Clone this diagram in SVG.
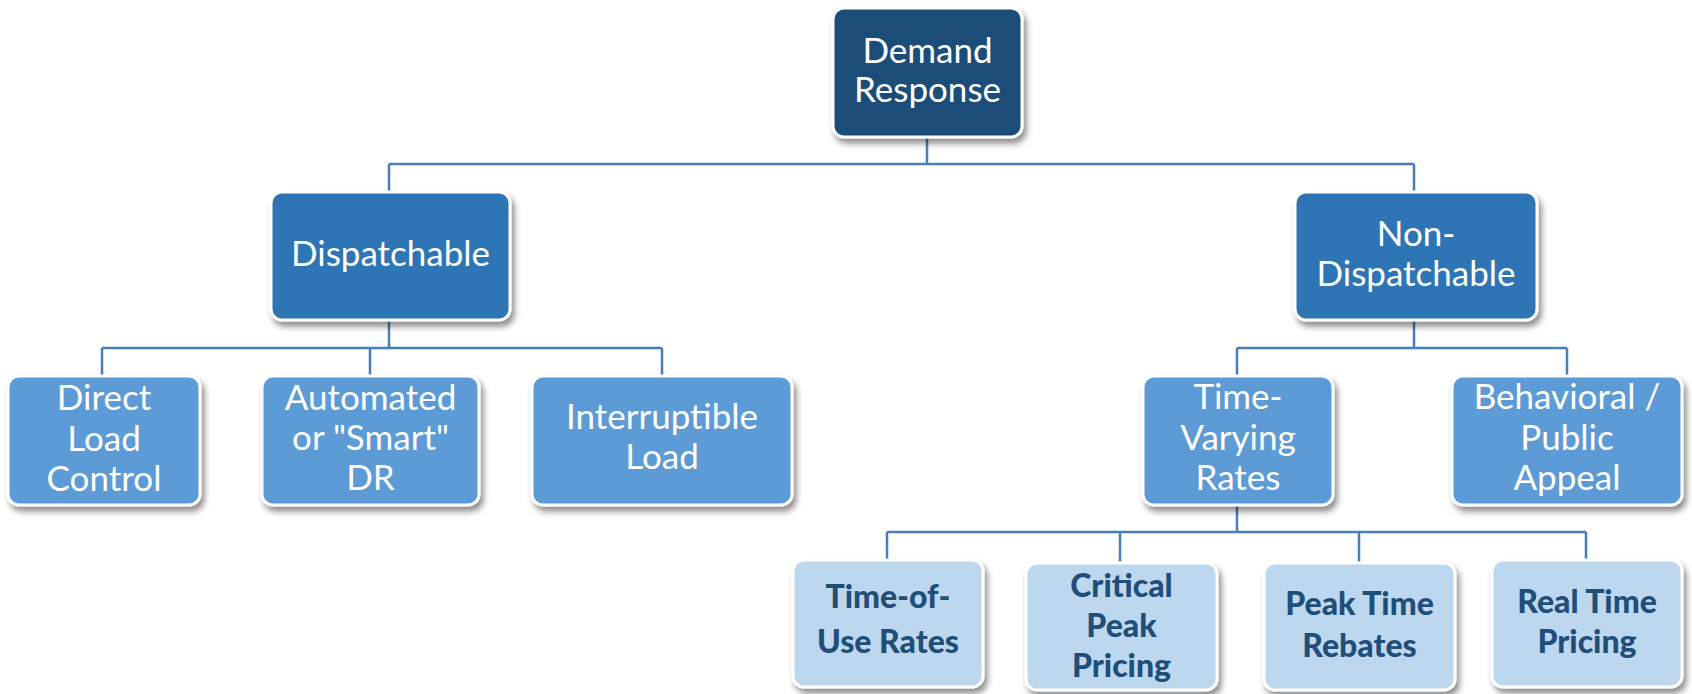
<svg xmlns="http://www.w3.org/2000/svg" width="1692" height="694" viewBox="0 0 1692 694">
<defs>
<filter id="sh" x="-10%" y="-10%" width="125%" height="130%">
<feDropShadow dx="3" dy="5" stdDeviation="3" flood-color="#000" flood-opacity="0.45"/>
</filter>
<style>
.box{stroke:#fff;stroke-width:3;filter:url(#sh)}
.l1{fill:#1F4E79}
.l2{fill:#2E75B6}
.l3{fill:#5B9BD5}
.l4{fill:#BDD7EE}
.t{font-family:Lato,"Liberation Sans",sans-serif;font-size:35px;fill:#fff;text-anchor:middle}
.tb{font-family:Lato,"Liberation Sans",sans-serif;font-size:32px;font-weight:900;fill:#1F4E79;text-anchor:middle}
.c{fill:none;stroke:#4A7EBB;stroke-width:2.5}
</style>
</defs>
<rect width="1692" height="694" fill="#fff"/>
<g id="connectors">
<path class="c" d="M927,137V164M389,164H1414M389,164V192M1414,164V192"/>
<path class="c" d="M389,320V348M102,348H662M102,348V376M370,348V376M662,348V376"/>
<path class="c" d="M1414,320V348M1237,348H1567M1237,348V376M1567,348V376"/>
<path class="c" d="M1237,505V532M887,532H1586M887,532V560M1120,532V563M1359,532V563M1586,532V560"/>
</g>
<g id="demand-response">
<rect class="box l1" x="833" y="8" width="189" height="129" rx="11"/>
<text class="t" x="927.5" y="63">Demand</text>
<text class="t" x="927.5" y="102">Response</text>
</g>
<g id="dispatchable">
<rect class="box l2" x="271" y="192" width="239" height="128" rx="11"/>
<text class="t" x="390.5" y="266">Dispatchable</text>
</g>
<g id="non-dispatchable">
<rect class="box l2" x="1295" y="192" width="242" height="128" rx="11"/>
<text class="t" x="1416" y="246">Non-</text>
<text class="t" x="1416" y="286">Dispatchable</text>
</g>
<g id="direct-load-control">
<rect class="box l3" x="8" y="376" width="192" height="129" rx="11"/>
<text class="t" x="104" y="410">Direct</text>
<text class="t" x="104" y="451">Load</text>
<text class="t" x="104" y="491">Control</text>
</g>
<g id="automated-dr">
<rect class="box l3" x="262" y="376" width="217" height="129" rx="11"/>
<text class="t" x="370.5" y="410">Automated</text>
<text class="t" x="370.5" y="450">or "Smart"</text>
<text class="t" x="370.5" y="490">DR</text>
</g>
<g id="interruptible-load">
<rect class="box l3" x="532" y="376" width="260" height="129" rx="11"/>
<text class="t" x="662" y="429">Interruptible</text>
<text class="t" x="662" y="469">Load</text>
</g>
<g id="time-varying-rates">
<rect class="box l3" x="1143" y="376" width="190" height="129" rx="11"/>
<text class="t" x="1238" y="409">Time-</text>
<text class="t" x="1238" y="450">Varying</text>
<text class="t" x="1238" y="490">Rates</text>
</g>
<g id="behavioral-public-appeal">
<rect class="box l3" x="1452" y="376" width="230" height="129" rx="11"/>
<text class="t" x="1567" y="409">Behavioral /</text>
<text class="t" x="1567" y="450">Public</text>
<text class="t" x="1567" y="490">Appeal</text>
</g>
<g id="time-of-use-rates">
<rect class="box l4" x="793" y="560" width="190" height="127" rx="11"/>
<text class="tb" x="888" y="608">Time-of-</text>
<text class="tb" x="888" y="653">Use Rates</text>
</g>
<g id="critical-peak-pricing">
<rect class="box l4" x="1026" y="563" width="191" height="127" rx="11"/>
<text class="tb" x="1121.5" y="597">Critical</text>
<text class="tb" x="1121.5" y="637">Peak</text>
<text class="tb" x="1121.5" y="677">Pricing</text>
</g>
<g id="peak-time-rebates">
<rect class="box l4" x="1264" y="563" width="191" height="127" rx="11"/>
<text class="tb" x="1359.5" y="615">Peak Time</text>
<text class="tb" x="1359.5" y="657">Rebates</text>
</g>
<g id="real-time-pricing">
<rect class="box l4" x="1492" y="560" width="190" height="127" rx="11"/>
<text class="tb" x="1587" y="613">Real Time</text>
<text class="tb" x="1587" y="653">Pricing</text>
</g>
</svg>
